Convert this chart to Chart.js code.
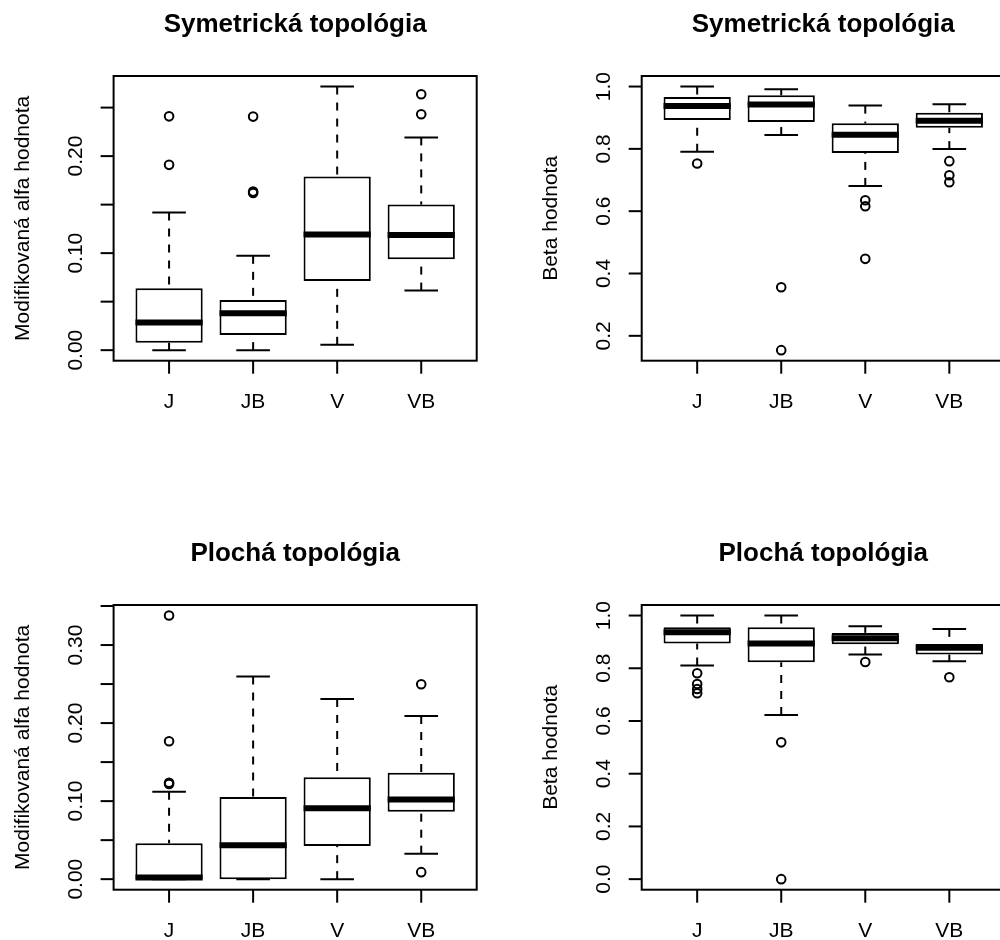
<!DOCTYPE html>
<html>
<head>
<meta charset="utf-8">
<script src="https://cdn.jsdelivr.net/npm/chart.js@4.4.0/dist/chart.umd.min.js"></script>
<style>
  html, body { margin: 0; padding: 0; background: #fff; overflow: hidden; }
  #wrap { position: relative; width: 1000px; height: 940px; overflow: hidden; }
  canvas { position: absolute; }
</style>
</head>
<body>
<div id="wrap">
  <canvas id="symAlfa" width="500" height="470" style="left:0px;top:0px"></canvas>
  <canvas id="symBeta" width="530" height="470" style="left:500px;top:0px"></canvas>
  <canvas id="ploAlfa" width="500" height="470" style="left:0px;top:529px"></canvas>
  <canvas id="ploBeta" width="530" height="470" style="left:500px;top:529px"></canvas>
</div>
<script>
const categories = ['J', 'JB', 'V', 'VB'];

// Symetrická topológia - modifikovaná alfa
const symAlfaLow  = [0.0000, 0.0000, 0.0055, 0.0614];
const symAlfaQ1   = [0.0076, 0.0155, 0.0714, 0.0938];
const symAlfaMed  = [0.0286, 0.0380, 0.1193, 0.1186];
const symAlfaQ3   = [0.0638, 0.0517, 0.1790, 0.1500];
const symAlfaHigh = [0.1420, 0.0972, 0.2717, 0.2193];
const symAlfaOut  = [[0.191, 0.241], [0.162, 0.1634, 0.2407], [], [0.2431, 0.2638]];
const symAlfaTicks = [0, 0.05, 0.10, 0.15, 0.20, 0.25];
const symAlfaTickLabels = ['0.00', '', '0.10', '', '0.20', ''];

// Symetrická topológia - beta
const symBetaLow  = [0.7907, 0.8443, 0.6812, 0.7992];
const symBetaQ1   = [0.8926, 0.8860, 0.7864, 0.8680];
const symBetaMed  = [0.9377, 0.9420, 0.8454, 0.8905];
const symBetaQ3   = [0.9667, 0.9720, 0.8819, 0.9163];
const symBetaHigh = [1.0000, 0.9914, 0.9388, 0.9431];
const symBetaOut  = [[0.753], [0.356, 0.154], [0.635, 0.6157, 0.447], [0.7606, 0.7155, 0.693]];
const symBetaTicks = [0.2, 0.4, 0.6, 0.8, 1.0];
const symBetaTickLabels = ['0.2', '0.4', '0.6', '0.8', '1.0'];

// Plochá topológia - modifikovaná alfa
const ploAlfaLow  = [0.0000, 0.0000, 0.0000, 0.0326];
const ploAlfaQ1   = [0.0000, 0.0000, 0.0425, 0.0863];
const ploAlfaMed  = [0.0020, 0.0433, 0.0910, 0.1021];
const ploAlfaQ3   = [0.0459, 0.1052, 0.1305, 0.1365];
const ploAlfaHigh = [0.1120, 0.2597, 0.2309, 0.2090];
const ploAlfaOut  = [[0.1219, 0.1236, 0.1768, 0.3378], [], [], [0.009, 0.2498]];
const ploAlfaTicks = [0, 0.05, 0.10, 0.15, 0.20, 0.25, 0.30, 0.35];
const ploAlfaTickLabels = ['0.00', '', '0.10', '', '0.20', '', '0.30', ''];

// Plochá topológia - beta
const ploBetaLow  = [0.8101, 0.6228, 0.8519, 0.8266];
const ploBetaQ1   = [0.8937, 0.8228, 0.8910, 0.8519];
const ploBetaMed  = [0.9367, 0.8937, 0.9140, 0.8780];
const ploBetaQ3   = [0.9557, 0.9557, 0.9342, 0.8924];
const ploBetaHigh = [1.0000, 1.0000, 0.9595, 0.9494];
const ploBetaOut  = [[0.781, 0.7405, 0.7215, 0.705], [0.519, 0.0], [0.824], [0.7658]];
const ploBetaTicks = [0.0, 0.2, 0.4, 0.6, 0.8, 1.0];
const ploBetaTickLabels = ['0.0', '0.2', '0.4', '0.6', '0.8', '1.0'];

const FONT = '"Liberation Sans", Arial, Helvetica, sans-serif';

// whiskers, medians, frame, axes and texts (R style)
const boxPlugin = (p) => ({
  id: 'rbox',
  afterDatasetsDraw(chart) {
    const { ctx, chartArea: a } = chart;
    const x = chart.scales.x;
    const y = chart.scales.y;
    const unit = x.getPixelForValue(2) - x.getPixelForValue(1);

    const seg = (x1, y1, x2, y2) => {
      ctx.beginPath();
      ctx.moveTo(x1, y1);
      ctx.lineTo(x2, y2);
      ctx.stroke();
    };

    ctx.save();
    ctx.strokeStyle = '#000';
    ctx.fillStyle = '#000';
    ctx.lineCap = 'butt';

    categories.forEach((c, i) => {
      const px = x.getPixelForValue(i + 1);
      const yLow = y.getPixelForValue(p.low[i]);
      const yHigh = y.getPixelForValue(p.high[i]);
      ctx.lineWidth = 2;
      ctx.setLineDash([8, 8]);
      seg(px, yLow, px, y.getPixelForValue(p.q1[i]));
      seg(px, yHigh, px, y.getPixelForValue(p.q3[i]));
      ctx.setLineDash([]);
      const cap = unit * 0.2;
      seg(px - cap, yLow, px + cap, yLow);
      seg(px - cap, yHigh, px + cap, yHigh);
      const half = unit * 0.4;
      const yMed = y.getPixelForValue(p.med[i]);
      ctx.lineWidth = 6;
      seg(px - half, yMed, px + half, yMed);
    });

    // frame
    ctx.lineWidth = 2;
    ctx.strokeRect(a.left, a.top, a.right - a.left, a.bottom - a.top);

    // y axis
    ctx.font = '21px ' + FONT;
    p.ticks.forEach((v, k) => {
      const py = y.getPixelForValue(v);
      seg(a.left - 13, py, a.left, py);
      if (p.tickLabels[k]) {
        ctx.save();
        ctx.translate(a.left - 32, py);
        ctx.rotate(-Math.PI / 2);
        ctx.textAlign = 'center';
        ctx.textBaseline = 'alphabetic';
        ctx.fillText(p.tickLabels[k], 0, 0);
        ctx.restore();
      }
    });

    // x axis
    ctx.textAlign = 'center';
    ctx.textBaseline = 'alphabetic';
    categories.forEach((c, i) => {
      const px = x.getPixelForValue(i + 1);
      seg(px, a.bottom, px, a.bottom + 13);
      ctx.fillText(c, px, a.bottom + 47.5);
    });

    // y title
    ctx.save();
    ctx.translate(a.left - 84.5, (a.top + a.bottom) / 2);
    ctx.rotate(-Math.PI / 2);
    ctx.fillText(p.yTitle, 0, 0);
    ctx.restore();

    // main title
    ctx.font = 'bold 26px ' + FONT;
    ctx.fillText(p.title, (a.left + a.right) / 2, a.top - 44.5);

    ctx.restore();
  }
});

function makePanel(id, p, padding) {
  const all = [...p.low, ...p.high, ...p.out.flat()];
  const lo = Math.min(...all);
  const hi = Math.max(...all);
  const ext = (hi - lo) * 0.04;

  return new Chart(document.getElementById(id), {
    type: 'bar',
    data: {
      datasets: [
        {
          type: 'bar',
          data: categories.map((c, i) => ({ x: i + 1, y: [p.q1[i], p.q3[i]] })),
          backgroundColor: '#ffffff',
          borderColor: '#000000',
          borderWidth: 2,
          borderSkipped: false,
          categoryPercentage: 0.8,
          barPercentage: 1.0
        },
        {
          type: 'scatter',
          data: p.out.flatMap((vals, i) => vals.map(v => ({ x: i + 1, y: v }))),
          showLine: false,
          pointStyle: 'circle',
          pointRadius: 4.3,
          pointBorderWidth: 2,
          pointBorderColor: '#000000',
          pointBackgroundColor: 'rgba(0,0,0,0)'
        }
      ]
    },
    options: {
      responsive: false,
      animation: false,
      events: [],
      layout: { padding: padding },
      scales: {
        x: {
          type: 'linear', display: false, offset: false, bounds: 'data',
          min: 0.34, max: 4.66,
          afterBuildTicks: s => { s.ticks = categories.map((c, i) => ({ value: i + 1 })); }
        },
        y: {
          type: 'linear', display: false, beginAtZero: false, bounds: 'data',
          min: lo - ext, max: hi + ext
        }
      },
      plugins: {
        legend: { display: false },
        tooltip: { enabled: false }
      }
    },
    plugins: [boxPlugin(p)]
  });
}

const padLeftCol = { left: 113.6, top: 76, right: 23.3, bottom: 109.3 };
const padRightCol = { left: 141.7, top: 76, right: 25.2, bottom: 109.3 };

makePanel('symAlfa', {
  low: symAlfaLow, q1: symAlfaQ1, med: symAlfaMed, q3: symAlfaQ3, high: symAlfaHigh, out: symAlfaOut,
  ticks: symAlfaTicks, tickLabels: symAlfaTickLabels,
  title: 'Symetrická topológia', yTitle: 'Modifikovaná alfa hodnota'
}, padLeftCol);

makePanel('symBeta', {
  low: symBetaLow, q1: symBetaQ1, med: symBetaMed, q3: symBetaQ3, high: symBetaHigh, out: symBetaOut,
  ticks: symBetaTicks, tickLabels: symBetaTickLabels,
  title: 'Symetrická topológia', yTitle: 'Beta hodnota'
}, padRightCol);

makePanel('ploAlfa', {
  low: ploAlfaLow, q1: ploAlfaQ1, med: ploAlfaMed, q3: ploAlfaQ3, high: ploAlfaHigh, out: ploAlfaOut,
  ticks: ploAlfaTicks, tickLabels: ploAlfaTickLabels,
  title: 'Plochá topológia', yTitle: 'Modifikovaná alfa hodnota'
}, padLeftCol);

makePanel('ploBeta', {
  low: ploBetaLow, q1: ploBetaQ1, med: ploBetaMed, q3: ploBetaQ3, high: ploBetaHigh, out: ploBetaOut,
  ticks: ploBetaTicks, tickLabels: ploBetaTickLabels,
  title: 'Plochá topológia', yTitle: 'Beta hodnota'
}, padRightCol);
</script>
</body>
</html>
